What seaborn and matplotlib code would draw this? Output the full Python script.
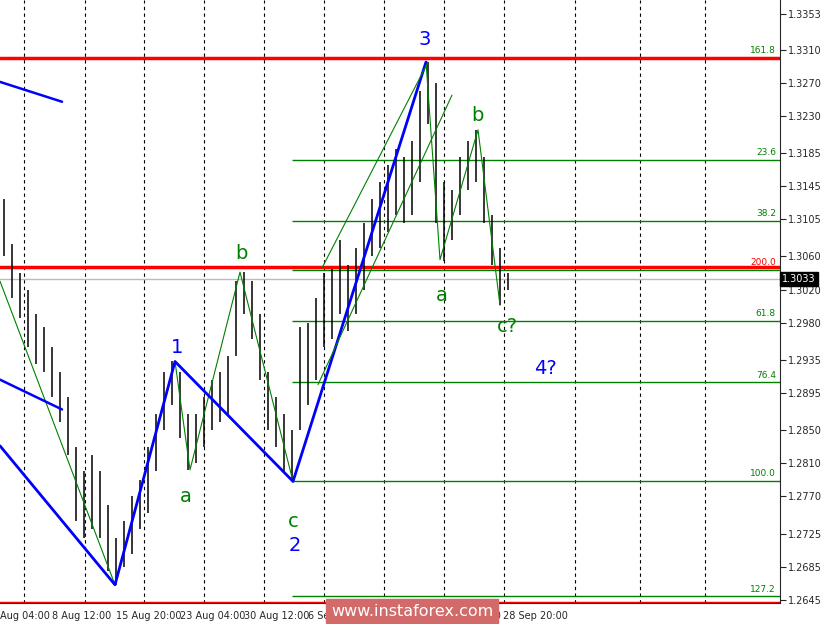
import numpy as np
import pandas as pd
import matplotlib
matplotlib.use("Agg")
import matplotlib.pyplot as plt
import seaborn as sns

# bar highs / lows (one bar every 8 px)
highs = [1.3130, 1.3075, 1.3040, 1.3020, 1.2990, 1.2975, 1.2950, 1.2920, 1.2890, 1.2830,
         1.2800, 1.2820, 1.2800, 1.2760, 1.2720, 1.2740, 1.2770, 1.2790, 1.2830, 1.2870,
         1.2920, 1.2933, 1.2920, 1.2870, 1.2870, 1.2890, 1.2910, 1.2920, 1.2940, 1.3030,
         1.3041, 1.3030, 1.2990, 1.2920, 1.2890, 1.2870, 1.2850, 1.2975, 1.2980, 1.3010,
         1.3040, 1.3045, 1.3080, 1.3050, 1.3070, 1.3100, 1.3130, 1.3150, 1.3170, 1.3190,
         1.3180, 1.3200, 1.3260, 1.3295, 1.3270, 1.3150, 1.3140, 1.3180, 1.3200, 1.3213,
         1.3180, 1.3110, 1.3070, 1.3040]
lows = [1.3060, 1.3010, 1.2985, 1.2950, 1.2930, 1.2920, 1.2890, 1.2860, 1.2820, 1.2740,
        1.2720, 1.2730, 1.2720, 1.2680, 1.2663, 1.2685, 1.2700, 1.2730, 1.2750, 1.2800,
        1.2850, 1.2880, 1.2840, 1.2802, 1.2810, 1.2830, 1.2850, 1.2860, 1.2870, 1.2940,
        1.2990, 1.2960, 1.2910, 1.2850, 1.2830, 1.2800, 1.2788, 1.2850, 1.2880, 1.2910,
        1.2950, 1.2960, 1.2990, 1.2970, 1.2990, 1.3020, 1.3060, 1.3070, 1.3090, 1.3110,
        1.3100, 1.3110, 1.3150, 1.3220, 1.3100, 1.3055, 1.3080, 1.3110, 1.3140, 1.3150,
        1.3100, 1.3050, 1.3001, 1.3020]

fib_levels = [1.3300, 1.3177, 1.3103, 1.3044, 1.2982, 1.2908, 1.2789, 1.2649]
fib_labels = ["161.8", "23.6", "38.2", "200.0", "61.8", "76.4", "100.0", "127.2"]
red_levels = [1.3300, 1.3047, 1.2641]
price_ticks = [1.3353, 1.3310, 1.3270, 1.3230, 1.3185, 1.3145, 1.3105, 1.3060, 1.3020,
               1.2980, 1.2935, 1.2895, 1.2850, 1.2810, 1.2770, 1.2725, 1.2685, 1.2645]
date_labels = ["Aug 04:00", "8 Aug 12:00", "15 Aug 20:00", "23 Aug 04:00", "30 Aug 12:00",
               "6 Sep 20:00", "14 Sep 04:00", "21 Sep 12:00", "28 Sep 20:00"]
last_price = 1.3033

# wave count lines (x in chart px, price)
wave_x = [0, 115, 175, 293, 426]
wave_y = [1.2831, 1.2663, 1.2933, 1.2788, 1.3295]
sub_x = [0, 115, 175, 190, 240, 293, 426, 440, 478, 500]
sub_y = [1.3030, 1.2663, 1.2933, 1.2802, 1.3041, 1.2788, 1.3295, 1.3056, 1.3213, 1.3001]

sns.set_style("white")
plt.rcParams["font.family"] = ["Tahoma", "DejaVu Sans"]

fig = plt.figure(figsize=(8.25, 6.24), dpi=100)
ax = fig.add_axes([0, 21 / 624, 780 / 825, 603 / 624])
ax.set_xlim(0, 780)
ax.set_ylim(1.2641, 1.3370)

xs = 4 + 8 * np.arange(len(highs))
grid_x = [24, 85, 144, 204, 264, 324, 384, 444, 504, 575, 640, 705]
for gx in grid_x:
    ax.axvline(gx, color="black", lw=0.8, ls=(0, (3, 3)), zorder=0)

for lvl, lab in zip(fib_levels, fib_labels):
    ax.hlines(lvl, 292, 780, color="green", lw=1)
    ax.text(776, lvl + 0.0003, lab, color="green" if lab != "200.0" else "red",
            fontsize=6.5, ha="right", va="bottom")
for lvl in red_levels:
    ax.axhline(lvl, color="red", lw=2.5)
ax.axhline(last_price, color="#bbbbbb", lw=1)

ax.vlines(xs, lows, highs, color="black", lw=1.1)

df_sub = pd.DataFrame({"x": sub_x, "y": sub_y})
sns.lineplot(data=df_sub, x="x", y="y", color="green", lw=0.8, sort=False, ax=ax)
df_wave = pd.DataFrame({"x": wave_x, "y": wave_y})
sns.lineplot(data=df_wave, x="x", y="y", color="blue", lw=2, sort=False, ax=ax)
ax.plot([0, 62], [1.3271, 1.3247], color="blue", lw=1.8)
ax.plot([0, 62], [1.2911, 1.2875], color="blue", lw=1.8)
ax.plot([322, 428], [1.3046, 1.3295], color="green", lw=0.8)
ax.plot([318, 452], [1.2905, 1.3255], color="green", lw=0.8)

labels = [(425, 1.3322, "3", "blue"), (477, 1.3230, "b", "green"), (442, 1.3013, "a", "green"),
          (507, 1.2975, "c?", "green"), (545, 1.2925, "4?", "blue"), (177, 1.2950, "1", "blue"),
          (186, 1.2770, "a", "green"), (241, 1.3063, "b", "green"), (293, 1.2740, "c", "green"),
          (295, 1.2710, "2", "blue")]
for x, y, t, c in labels:
    ax.text(x, y, t, color=c, fontsize=14, ha="center", va="center")

ax.set_xticks([])
ax.yaxis.tick_right()
ax.set_yticks(price_ticks)
ax.set_yticklabels([f"{p:.4f}" for p in price_ticks], fontsize=7)
ax.tick_params(axis="y", length=4, pad=2)
for s in ["top", "left"]:
    ax.spines[s].set_visible(False)
ax.set_xlabel("")
ax.set_ylabel("")
ax.text(782, last_price, f"{last_price:.4f}", fontsize=7, color="white", va="center",
        transform=ax.transData, clip_on=False,
        bbox=dict(boxstyle="square,pad=0.2", fc="black", ec="black"))
for i, lab in enumerate(date_labels):
    x0 = 0 if i == 0 else 52 + 64 * (i - 1)
    if i == len(date_labels) - 1:
        x0 = 503
    fig.text(x0 / 825, 5 / 624, lab, fontsize=7, zorder=1)
fig.text(412 / 825, 13 / 624, "www.instaforex.com", fontsize=11.5, color="white",
         ha="center", va="center", zorder=5,
         bbox=dict(boxstyle="square,pad=0.3", fc="#d36a6a", ec="#d36a6a"))

fig.savefig("out.png", dpi=100)
